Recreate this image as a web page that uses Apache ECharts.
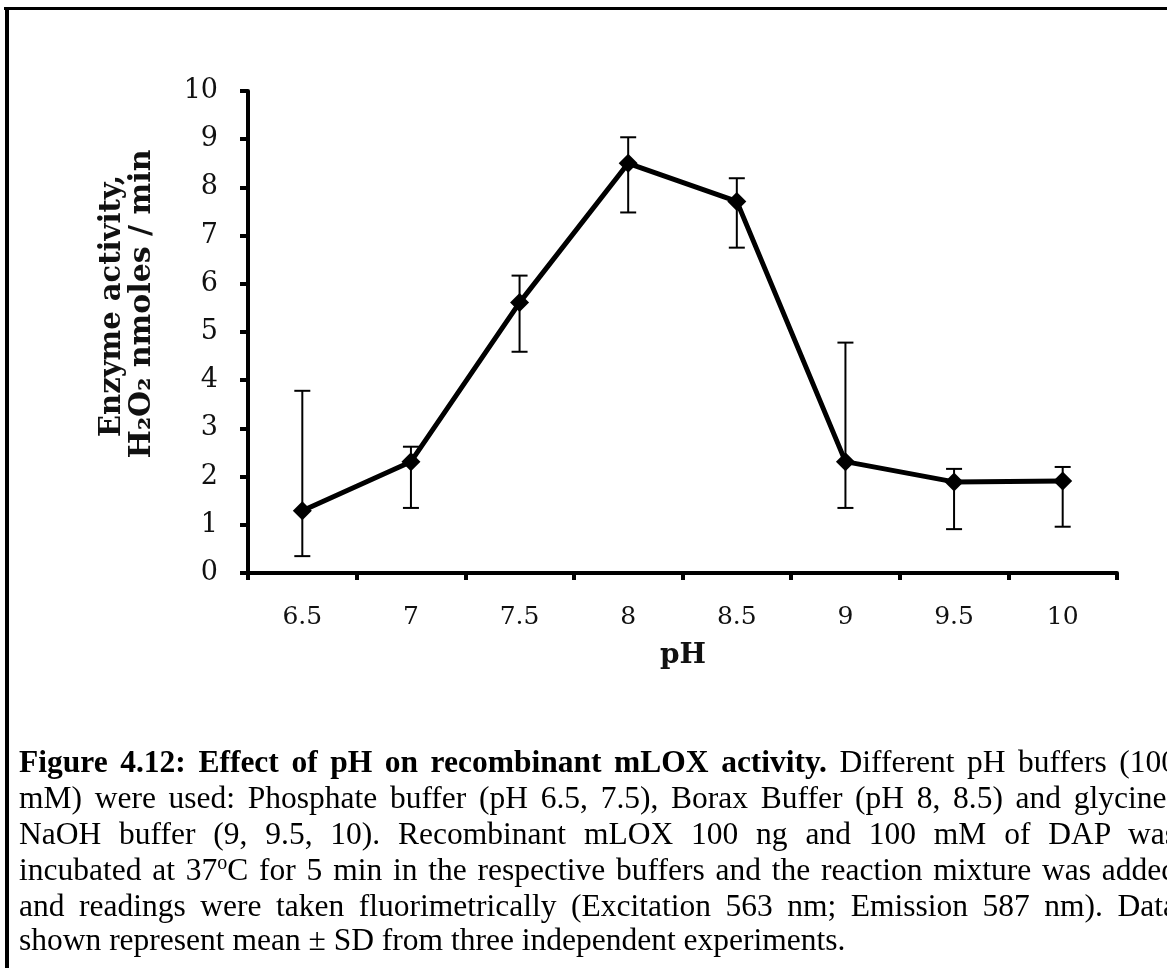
<!DOCTYPE html>
<html>
<head>
<meta charset="utf-8">
<script src="https://cdn.jsdelivr.net/npm/echarts@6/dist/echarts.min.js"></script>
<style>
html,body{margin:0;padding:0;background:#fff;overflow:hidden;}
#chart{position:absolute;left:0;top:0;width:1167px;height:968px;}
.cap{position:absolute;left:19px;width:1158px;font-family:"Liberation Serif","Times New Roman",serif;font-size:31.5px;color:#000;white-space:nowrap;line-height:36px;}
.j{text-align:justify;text-align-last:justify;white-space:normal;}
</style>
</head>
<body>
<div id="chart"></div>
<div class="cap j" style="top:744px;"><b>Figure 4.12: Effect of pH on recombinant mLOX activity.</b> Different pH buffers (100</div>
<div class="cap j" style="top:780px;">mM) were used: Phosphate buffer (pH 6.5, 7.5), Borax Buffer (pH 8, 8.5) and glycine-</div>
<div class="cap j" style="top:816px;">NaOH buffer (9, 9.5, 10). Recombinant mLOX 100 ng and 100 mM of DAP was</div>
<div class="cap j" style="top:852px;">incubated at 37<sup style="font-size:20px;line-height:0;">o</sup>C for 5 min in the respective buffers and the reaction mixture was added</div>
<div class="cap j" style="top:888px;">and readings were taken fluorimetrically (Excitation 563 nm; Emission 587 nm). Data</div>
<div class="cap" style="top:922px;">shown represent mean ± SD from three independent experiments.</div>
<script>
const phLabels = ['6.5', '7', '7.5', '8', '8.5', '9', '9.5', '10'];
const activityMean = [1.29, 2.31, 5.61, 8.50, 7.71, 2.31, 1.89, 1.91];
const errLower = [0.35, 1.35, 4.59, 7.48, 6.75, 1.35, 0.91, 0.96];
const errUpper = [3.78, 2.62, 6.17, 9.04, 8.19, 4.78, 2.16, 2.20];
const yTicks = {min: 0, max: 10, interval: 1};

const errData = phLabels.map((p, i) => [i, errLower[i], errUpper[i]]);

const chart = echarts.init(document.getElementById('chart'));
const tickFont = '"DejaVu Serif", serif';
chart.setOption({
  animation: false,
  grid: {left: 248, right: 50, top: 91, bottom: 395, containLabel: false},
  xAxis: {
    type: 'category',
    data: phLabels,
    boundaryGap: true,
    axisLine: {lineStyle: {color: '#000', width: 4}},
    axisTick: {show: true, length: 7, lineStyle: {color: '#000', width: 4}},
    axisLabel: {color: '#111', fontFamily: tickFont, fontSize: 25, margin: 32},
    splitLine: {show: false}
  },
  yAxis: {
    type: 'value',
    min: yTicks.min, max: yTicks.max, interval: yTicks.interval,
    axisLine: {show: true, lineStyle: {color: '#000', width: 4}},
    axisTick: {show: true, length: 8, lineStyle: {color: '#000', width: 4}},
    axisLabel: {color: '#111', fontFamily: tickFont, fontSize: 27, margin: 30},
    splitLine: {show: false}
  },
  graphic: [
    {type: 'rect', shape: {x: 4, y: 7, width: 1170, height: 3}, style: {fill: '#000'}},
    {type: 'rect', shape: {x: 5, y: 7, width: 4, height: 970}, style: {fill: '#000'}},
    {type: 'text', x: 112, y: 306, rotation: Math.PI / 2,
      style: {text: 'Enzyme activity,', font: 'bold 29px "DejaVu Serif", serif', fill: '#111', textAlign: 'center', textVerticalAlign: 'middle'}},
    {type: 'text', x: 142, y: 304, rotation: Math.PI / 2,
      style: {text: 'H\u2082O\u2082 nmoles / min', font: 'bold 30px "DejaVu Serif", serif', fill: '#111', textAlign: 'center', textVerticalAlign: 'middle'}},
    {type: 'text', x: 683, y: 656,
      style: {text: 'pH', font: 'bold 28px "DejaVu Serif", serif', fill: '#111', textAlign: 'center', textVerticalAlign: 'middle'}}
  ],
  series: [
    {
      type: 'custom',
      z: 1,
      data: errData,
      renderItem: function (params, api) {
        const idx = api.value(0);
        const lo = api.coord([idx, api.value(1)]);
        const hi = api.coord([idx, api.value(2)]);
        const w = 8;
        const st = {stroke: '#000', lineWidth: 2};
        return {
          type: 'group',
          children: [
            {type: 'line', shape: {x1: lo[0], y1: lo[1], x2: hi[0], y2: hi[1]}, style: st},
            {type: 'line', shape: {x1: hi[0] - w, y1: hi[1], x2: hi[0] + w, y2: hi[1]}, style: st},
            {type: 'line', shape: {x1: lo[0] - w, y1: lo[1], x2: lo[0] + w, y2: lo[1]}, style: st}
          ]
        };
      }
    },
    {
      type: 'line',
      z: 3,
      data: activityMean,
      symbol: 'diamond',
      symbolSize: 19,
      lineStyle: {color: '#000', width: 5},
      itemStyle: {color: '#000'}
    }
  ]
});
</script>
</body>
</html>
